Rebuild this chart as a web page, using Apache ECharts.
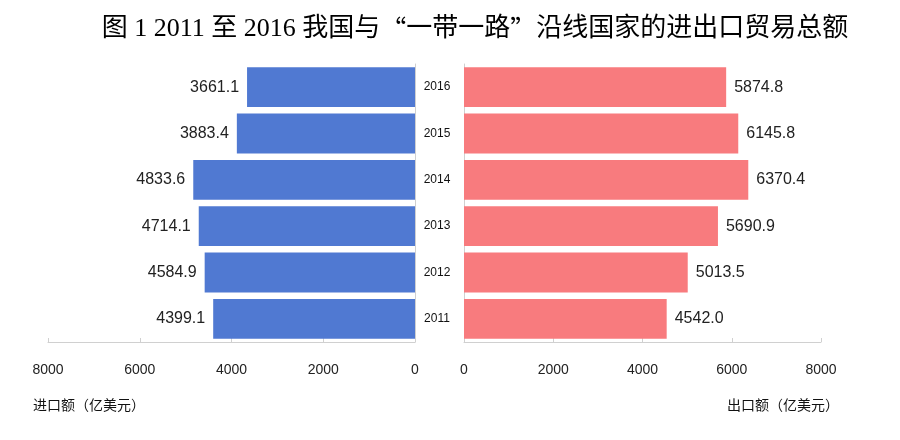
<!DOCTYPE html>
<html><head><meta charset="utf-8">
<script src="https://cdn.jsdelivr.net/npm/echarts@6/dist/echarts.min.js"></script>
<style>html,body{margin:0;padding:0;background:#fff}#c{width:900px;height:440px}</style>
</head><body><div id="c"></div>
<script>
const years = ['2011','2012','2013','2014','2015','2016'];
const importVals = [4399.1, 4584.9, 4714.1, 4833.6, 3883.4, 3661.1];
const exportVals = [4542.0, 5013.5, 5690.9, 6370.4, 6145.8, 5874.8];
const axisTicks = [0, 2000, 4000, 6000, 8000];
const titleParts = ['图 1 2011 至 2016 我国与', '“', '一带一路', '”', '沿线国家的进出口贸易总额'];
const importName = '进口额（亿美元）';
const exportName = '出口额（亿美元）';

const chart = echarts.init(document.getElementById('c'));
const axisLineStyle = {show: true, lineStyle: {color: '#d0d0d0', width: 1}};
const valLabel = {fontFamily: 'Liberation Sans, Arial', fontSize: 16, color: '#222'};
const titleFont = {fontFamily: 'Liberation Serif, "Noto Sans CJK SC"', fontSize: 26, color: '#000'};
chart.setOption({
  animation: false,
  title: {
    text: titleParts[0] + '{q|' + titleParts[1] + '}' + titleParts[2] + '{q|' + titleParts[3] + '}' + titleParts[4],
    left: 470, textAlign: 'center', top: 11,
    textStyle: Object.assign({fontWeight: 'normal', rich: {q: {fontFamily: '"Noto Sans CJK SC"', fontSize: 26, color: '#000'}}}, titleFont)
  },
  grid: [
    {left: 48, right: 485, top: 64, bottom: 98},
    {left: 464, right: 79, top: 64, bottom: 98}
  ],
  xAxis: [
    {gridIndex: 0, type: 'value', inverse: true, min: axisTicks[0], max: axisTicks[4], interval: 2000,
     axisLine: axisLineStyle, axisTick: {show: true, inside: true, length: 4, lineStyle: {color: '#d0d0d0'}},
     splitLine: {show: false},
     axisLabel: {margin: 21, formatter: v => String(v), fontFamily: 'Liberation Sans, Arial', fontSize: 14, color: '#222'}},
    {gridIndex: 1, type: 'value', min: axisTicks[0], max: axisTicks[4], interval: 2000,
     axisLine: axisLineStyle, axisTick: {show: true, inside: true, length: 4, lineStyle: {color: '#d0d0d0'}},
     splitLine: {show: false},
     axisLabel: {margin: 21, formatter: v => String(v), fontFamily: 'Liberation Sans, Arial', fontSize: 14, color: '#222'}}
  ],
  yAxis: [
    {gridIndex: 0, type: 'category', data: years, position: 'right',
     axisLine: axisLineStyle, axisTick: {show: false}, axisLabel: {show: false}},
    {gridIndex: 1, type: 'category', data: years, position: 'left',
     axisLine: axisLineStyle, axisTick: {show: false},
     axisLabel: {margin: 27, align: 'center', fontFamily: 'Liberation Sans, Arial', fontSize: 12, color: '#111'}}
  ],
  series: [
    {type: 'bar', xAxisIndex: 0, yAxisIndex: 0, data: importVals, barCategoryGap: '14%',
     itemStyle: {color: '#5079d2'},
     label: Object.assign({show: true, position: 'left', distance: 8, formatter: p => p.value.toFixed(1)}, valLabel)},
    {type: 'bar', xAxisIndex: 1, yAxisIndex: 1, data: exportVals, barCategoryGap: '14%',
     itemStyle: {color: '#f87b7e'},
     label: Object.assign({show: true, position: 'right', distance: 8, formatter: p => p.value.toFixed(1)}, valLabel)}
  ],
  graphic: [
    {type: 'text', left: 33, top: 398, style: {text: importName, fontFamily: '"Noto Sans CJK SC"', fontSize: 14, fill: '#111'}},
    {type: 'text', left: 727, top: 398, style: {text: exportName, fontFamily: '"Noto Sans CJK SC"', fontSize: 14, fill: '#111'}}
  ]
});
</script></body></html>
